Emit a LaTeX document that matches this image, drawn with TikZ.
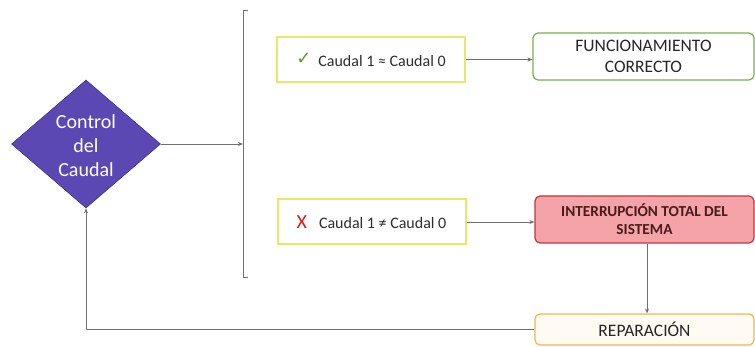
\documentclass[tikz,border=0pt]{standalone}
\usepackage{fontspec}
\setmainfont{Carlito}
\newfontfamily\symfont{DejaVu Sans}
\usetikzlibrary{shapes.geometric,arrows.meta}
\definecolor{dpurple}{HTML}{5B48B2}
\definecolor{dpurpleb}{HTML}{3F3190}
\definecolor{ybord}{HTML}{E9E66A}
\definecolor{gbord}{HTML}{78B04A}
\definecolor{rfill}{HTML}{F4A3A8}
\definecolor{rbord}{HTML}{C0393B}
\definecolor{obord}{HTML}{F2B457}
\definecolor{ofill}{HTML}{FFFBF2}
\definecolor{lgray}{HTML}{707070}
\definecolor{tgray}{HTML}{2E2E2E}
\definecolor{tred}{HTML}{4A1C1C}
\definecolor{ckgreen}{HTML}{5AA02C}
\definecolor{xred}{HTML}{D81E1E}
\tikzset{
  conn/.style={draw=lgray, line width=0.9pt},
  arr/.style={conn, -{Stealth[length=5pt,width=4pt]}},
  condbox/.style={draw=ybord, line width=2pt, fill=white, minimum width=188pt, minimum height=45pt, inner sep=0pt, text=tgray, font=\fontsize{16}{19}\selectfont},
  resbox/.style={rounded corners=5pt, line width=1.2pt, inner sep=0pt, align=center},
}
\begin{document}
\begin{tikzpicture}[x=1pt,y=-1pt]
\useasboundingbox (0,0) rectangle (755,347);
% decision diamond
\node[diamond, fill=dpurple, draw=dpurpleb, line width=0.6pt, minimum width=149pt, minimum height=128pt, inner sep=0pt] (ctrl) at (86,144) {};
\node[text=white, align=center, font=\fontsize{20}{24}\selectfont] (ctrltxt) at (86,146) {Control\\del\\Caudal};
% bracket
\coordinate (brtop) at (243,10);
\coordinate (brbot) at (243,277);
\coordinate (brmid) at (243,144);
\draw[conn] ([xshift=5pt]brtop) -- (brtop) -- (brbot) -- ([xshift=5pt]brbot);
\draw[arr] (ctrl.east) -- (brmid);
% condition boxes
\node[condbox] (c1) at (371,59.5) {\raisebox{2pt}{\symfont\color{ckgreen}\fontsize{18}{18}\selectfont ✓}\hspace{7pt}Caudal 1 ≈ Caudal 0};
\node[condbox] (c2) at (371.5,222) {{\color{xred}\fontsize{20}{20}\selectfont X}\hspace{12pt}Caudal 1 ≠ Caudal 0};
% result boxes
\node[resbox, draw=gbord, fill=white, minimum width=221pt, minimum height=47pt, text=black!85, font=\fontsize{17.5}{21}\selectfont] (func) at (643.5,56.5) {FUNCIONAMIENTO\\CORRECTO};
\node[resbox, draw=rbord, fill=rfill, minimum width=219pt, minimum height=47pt, text=tred, font=\bfseries\fontsize{15.3}{18}\selectfont] (intr) at (644.5,219.5) {INTERRUPCIÓN TOTAL DEL\\SISTEMA};
\node[resbox, draw=obord, fill=ofill, minimum width=219pt, minimum height=31pt, text=black!85, font=\fontsize{17.5}{21}\selectfont] (rep) at (644.5,329.5) {REPARACIÓN};
% connectors
\draw[arr] (c1.east) -- (c1.east -| func.west);
\draw[arr] (c2.east) -- (c2.east -| intr.west);
\draw[arr] ([xshift=2.5pt]intr.south) -- ([xshift=2.5pt]rep.north);
\draw[arr] (rep.west) -| (ctrl.south);
\end{tikzpicture}
\end{document}
